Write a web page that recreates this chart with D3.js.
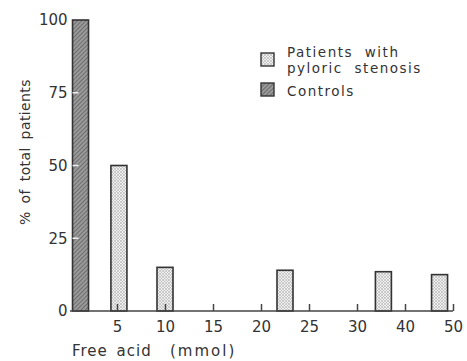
<!DOCTYPE html>
<html><head><meta charset="utf-8">
<script src="https://cdn.jsdelivr.net/npm/d3@7"></script>
<style>body{margin:0;background:#fff}svg{display:block}text{font-family:"DejaVu Sans",sans-serif;fill:#333}</style>
</head><body><div id="c"></div>
<script>
// Data
const xTickValues = [5, 10, 15, 20, 25, 30, 40, 50];
const xTickLabels = ["5", "10", "15", "20", "25", "30", "40", "50"];
const yTickValues = [0, 25, 50, 75, 100];
const patientsX = [5.2, 10, 22.5, 35.5, 47.2];
const patientsPct = [50, 15, 14, 13.5, 12.5];
const controlsX = [1.2];
const controlsPct = [100];
const legendLabels = [["Patients with", "pyloric stenosis"], ["Controls"]];

const W = 467, H = 361;
const svg = d3.select("#c").append("svg").attr("width", W).attr("height", H);
const defs = svg.append("defs");
const dots = defs.append("pattern").attr("id","dots").attr("patternUnits","userSpaceOnUse").attr("width",3).attr("height",3);
dots.append("rect").attr("width",3).attr("height",3).attr("fill","#f0f0f0");
dots.append("circle").attr("cx",1).attr("cy",1).attr("r",0.7).attr("fill","#888");
dots.append("circle").attr("cx",2.5).attr("cy",2.5).attr("r",0.5).attr("fill","#aaa");
const hatch = defs.append("pattern").attr("id","hatch").attr("patternUnits","userSpaceOnUse").attr("width",3).attr("height",3).attr("patternTransform","rotate(45)");
hatch.append("rect").attr("width",3).attr("height",3).attr("fill","#9a9a9a");
hatch.append("line").attr("x1",0).attr("y1",0).attr("x2",0).attr("y2",3).attr("stroke","#555").attr("stroke-width",1.3);

// piecewise linear x scale (axis is compressed above 30)
const x = d3.scaleLinear().domain([5, 30, 50]).range([117, 357, 453]);
const y = d3.scaleLinear().domain([0, 100]).range([311, 20]);
const barW = 16;
const axisColor = "#444";
const fs = 15;

// bars
function drawBars(xs, vs, fill) {
  svg.append("g").selectAll("rect").data(xs.map((d, i) => ({x: d, v: vs[i]}))).join("rect")
    .attr("x", d => x(d.x) - barW / 2).attr("y", d => y(d.v))
    .attr("width", barW).attr("height", d => y(0) - y(d.v))
    .attr("fill", fill).attr("stroke", "#333").attr("stroke-width", 1.6);
}
drawBars(controlsX, controlsPct, "url(#hatch)");
drawBars(patientsX, patientsPct, "url(#dots)");

// x axis
const xAxis = d3.axisBottom(x).tickValues(xTickValues).tickFormat((d, i) => xTickLabels[i]).tickSizeInner(-7).tickSizeOuter(0).tickPadding(10);
const gx = svg.append("g").attr("transform", `translate(0,${y(0)})`).call(xAxis);
gx.select(".domain").remove();
gx.selectAll(".tick line").attr("stroke", axisColor).attr("stroke-width", 1.5);
gx.selectAll(".tick text").attr("font-size", fs).attr("fill", "#333").attr("font-family", "DejaVu Sans");
svg.append("line").attr("x1", 70).attr("x2", x(50)).attr("y1", y(0)).attr("y2", y(0)).attr("stroke", axisColor).attr("stroke-width", 1.6);

// y axis
const yAxis = d3.axisLeft(y).tickValues(yTickValues).tickSize(0).tickPadding(3);
const gy = svg.append("g").attr("transform", `translate(${x(controlsX[0]) - barW / 2 - 2},0)`).call(yAxis);
gy.select(".domain").remove();
gy.selectAll(".tick text").attr("font-size", fs).attr("fill", "#333").attr("font-family", "DejaVu Sans");
// inner y ticks (light, visible on the control bar)
svg.append("g").selectAll("line").data(yTickValues.filter(v => v > 0 && v < 100)).join("line")
  .attr("x1", x(controlsX[0]) - barW / 2).attr("x2", x(controlsX[0]) - barW / 2 + 6)
  .attr("y1", d => y(d)).attr("y2", d => y(d)).attr("stroke", "#eee").attr("stroke-width", 1.5);

// titles
svg.append("text").attr("transform", `translate(30,152) rotate(-90)`).attr("text-anchor","middle")
  .attr("font-size",14).attr("letter-spacing",0.4).attr("word-spacing",3).text("% of total patients");
svg.append("text").attr("x", 72).attr("y", 356).attr("font-size", fs).attr("letter-spacing",1).attr("word-spacing",3).text("Free acid");
svg.append("text").attr("x", 170).attr("y", 356).attr("font-size", fs).attr("letter-spacing",2).text("(mmol)");

// legend
const lg = svg.append("g");
const lx = 261;
lg.append("rect").attr("x", lx).attr("y", 53).attr("width", 13).attr("height", 13).attr("fill","url(#dots)").attr("stroke","#333").attr("stroke-width",1.4);
lg.append("rect").attr("x", lx).attr("y", 83).attr("width", 13).attr("height", 13).attr("fill","url(#hatch)").attr("stroke","#333").attr("stroke-width",1.4);
const lt = (t, yy) => lg.append("text").attr("x", 287).attr("y", yy).attr("font-size", 13.5).attr("letter-spacing",1.5).attr("word-spacing",6).text(t);
lt(legendLabels[0][0], 57);
lt(legendLabels[0][1], 73);
lt(legendLabels[1][0], 96);
</script></body></html>
